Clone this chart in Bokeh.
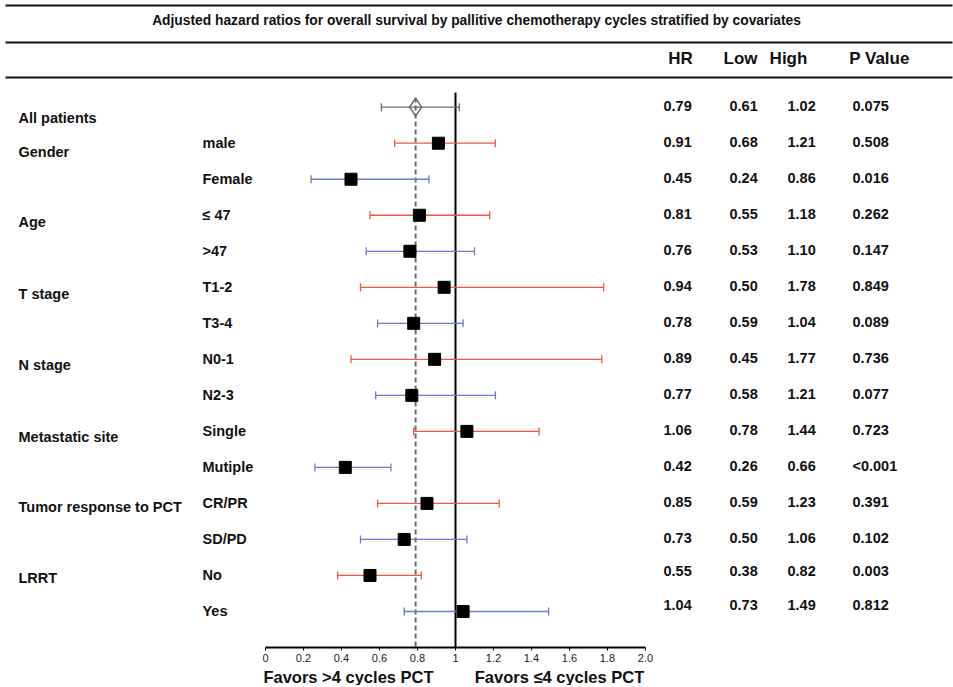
import numpy as np
from bokeh.plotting import figure
from bokeh.models import Range1d, LinearAxis, FixedTicker, ColumnDataSource
from bokeh.layouts import column
from bokeh.embed import file_html
from bokeh.resources import INLINE
from bokeh.core.properties import value

# ---------------- data ----------------
title_text = "Adjusted hazard ratios for overall survival by pallitive chemotherapy cycles stratified by covariates"
header_labels = ["HR", "Low", "High", "P Value"]
groups = ["All patients", "Gender", "Age", "T stage", "N stage",
          "Metastatic site", "Tumor response to PCT", "LRRT"]
group_first_row = [0, 1, 3, 5, 7, 9, 11, 13]
subgroups = ["", "male", "Female", "≤ 47", ">47", "T1-2", "T3-4", "N0-1", "N2-3",
             "Single", "Mutiple", "CR/PR", "SD/PD", "No", "Yes"]
hr = [0.79, 0.91, 0.45, 0.81, 0.76, 0.94, 0.78, 0.89, 0.77, 1.06, 0.42, 0.85, 0.73, 0.55, 1.04]
low = [0.61, 0.68, 0.24, 0.55, 0.53, 0.50, 0.59, 0.45, 0.58, 0.78, 0.26, 0.59, 0.50, 0.38, 0.73]
high = [1.02, 1.21, 0.86, 1.18, 1.10, 1.78, 1.04, 1.77, 1.21, 1.44, 0.66, 1.23, 1.06, 0.82, 1.49]
p_values = ["0.075", "0.508", "0.016", "0.262", "0.147", "0.849", "0.089", "0.736", "0.077",
            "0.723", "<0.001", "0.391", "0.102", "0.003", "0.812"]
overall_hr = 0.79
null_value = 1.0
x_ticks = [0, 0.2, 0.4, 0.6, 0.8, 1.0, 1.2, 1.4, 1.6, 1.8, 2.0]
tick_labels = ["0", "0.2", "0.4", "0.6", "0.8", "1", "1.2", "1.4", "1.6", "1.8", "2.0"]
favor_labels = ["Favors >4 cycles PCT", "Favors ≤4 cycles PCT"]

# ---------------- layout (page pixel geometry) ----------------
PAGE_X0, PAGE_Y0 = 0, 0
FRAME_W = 953
FRAME_TOP, FRAME_BOTTOM = 0, 647
X0_PAGE, PX_PER_UNIT = 265, 190.0
ROW0_PAGE, ROW_STEP = 106.7, 36.02
BOTTOM_H = 21
BOTTOM_TOP = 665


def xd(page_x):
    return (page_x - X0_PAGE) / PX_PER_UNIT


def yd(page_y):
    return (page_y - ROW0_PAGE) / ROW_STEP


FONT = value("Liberation Sans")
RED = "#f4573f"
BLUE = "#6d7bcc"
GREY = "#6b6b6b"

x_range = Range1d(xd(PAGE_X0), xd(PAGE_X0 + FRAME_W))
y_range = Range1d(yd(FRAME_BOTTOM), yd(FRAME_TOP))

p = figure(frame_width=FRAME_W, frame_height=FRAME_BOTTOM - FRAME_TOP,
           x_range=x_range, y_range=y_range,
           x_axis_location=None, y_axis_location=None,
           toolbar_location=None, output_backend="svg", min_border=0)
p.outline_line_color = None
p.xgrid.visible = False
p.ygrid.visible = False

# horizontal rules
rule_y = [yd(5), yd(42), yd(77)]
p.segment(x0=[xd(5)] * 3, x1=[xd(952)] * 3, y0=rule_y, y1=rule_y,
          line_color="#111111", line_width=2)

# title and header
p.text(x=[xd(476)], y=[yd(20)], text=[title_text], text_align="center",
       text_baseline="middle", text_font=FONT, text_font_style="bold",
       text_font_size="13.8px", text_color="#111111")
header_x = [xd(680), xd(740), xd(788), xd(879)]
p.text(x=header_x, y=[yd(58)] * 4, text=header_labels, text_align="center",
       text_baseline="middle", text_font=FONT, text_font_style="bold",
       text_font_size="17px", text_color="#111111")

rows = list(range(len(hr)))

# group labels
group_dy = [11, 9, 7, 7, 6, 6, 4, 3]
p.text(x=[xd(18)] * len(groups), y=group_first_row, y_offset=group_dy, text=groups,
       text_align="left", text_baseline="middle", text_font=FONT,
       text_font_style="bold", text_font_size="14.5px", text_color="#111111")
# subgroup labels
p.text(x=[xd(202)] * len(subgroups), y=rows, text=subgroups, text_align="left",
       text_baseline="middle", text_font=FONT, text_font_style="bold",
       text_font_size="14.5px", text_color="#111111")

# table values
table_dy = [-1] * 13 + [-4, -6]
col_x = [xd(663), xd(729), xd(787), xd(852)]
cols = [[f"{v:.2f}" for v in hr], [f"{v:.2f}" for v in low],
        [f"{v:.2f}" for v in high], p_values]
for cx, ctext in zip(col_x, cols):
    p.text(x=[cx] * len(ctext), y=rows, y_offset=table_dy, text=ctext,
           text_align="left", text_baseline="middle", text_font=FONT,
           text_font_style="bold", text_font_size="14.5px", text_color="#111111")

# reference lines
y_bottom = yd(FRAME_BOTTOM)
p.segment(x0=[null_value], x1=[null_value], y0=[yd(92)], y1=[y_bottom],
          line_color="black", line_width=2)
p.segment(x0=[overall_hr], x1=[overall_hr], y0=[yd(97)], y1=[y_bottom],
          line_color=GREY, line_width=2, line_dash="5 3")

# confidence intervals
colors = [GREY] + [RED if i % 2 == 1 else BLUE for i in range(1, len(hr))]
src = ColumnDataSource(dict(row=rows, hr=hr, low=low, high=high, color=colors))
p.segment(x0="low", x1="high", y0="row", y1="row", line_color="color",
          line_width=1.3, source=src)
p.scatter(x="low", y="row", marker="dash", angle=np.pi / 2, size=8,
          line_color="color", line_width=1.3, source=src)
p.scatter(x="high", y="row", marker="dash", angle=np.pi / 2, size=8,
          line_color="color", line_width=1.3, source=src)

# point estimates
sub_src = ColumnDataSource(dict(row=rows[1:], hr=hr[1:]))
p.scatter(x="hr", y="row", marker="square", size=12, fill_color="black",
          line_color="black", source=sub_src)
p.scatter(x=[hr[0]], y=[0], marker="diamond", size=18, fill_color="white",
          fill_alpha=0.0, line_color=GREY, line_width=1.5)

# x axis
axis = LinearAxis(ticker=FixedTicker(ticks=x_ticks), bounds=(0, 2))
axis.major_label_overrides = {t: l for t, l in zip(x_ticks, tick_labels)}
axis.axis_line_width = 2
axis.axis_line_color = "black"
axis.major_tick_out = 3
axis.major_tick_in = 0
axis.major_tick_line_color = "black"
axis.minor_tick_line_color = None
axis.major_label_text_font = "Liberation Sans"
axis.major_label_text_font_size = "11px"
axis.major_label_text_color = "#222222"
axis.major_label_standoff = 3
p.add_layout(axis, "below")

# bottom figure with favor labels
q = figure(width=FRAME_W, height=BOTTOM_H, x_range=x_range, y_range=Range1d(0, 1),
           x_axis_location=None, y_axis_location=None,
           toolbar_location=None, output_backend="svg", min_border=0)
q.outline_line_color = None
q.xgrid.visible = False
q.ygrid.visible = False
fav_y = 1 - (677 - BOTTOM_TOP) / BOTTOM_H
q.text(x=[xd(348), xd(559)], y=[fav_y, fav_y], text=favor_labels, text_align="center",
       text_baseline="middle", text_font=FONT, text_font_style="bold",
       text_font_size="16.5px", text_color="#111111")

layout = column(p, q, spacing=0)
open("out.html", "w").write(file_html(layout, INLINE))
